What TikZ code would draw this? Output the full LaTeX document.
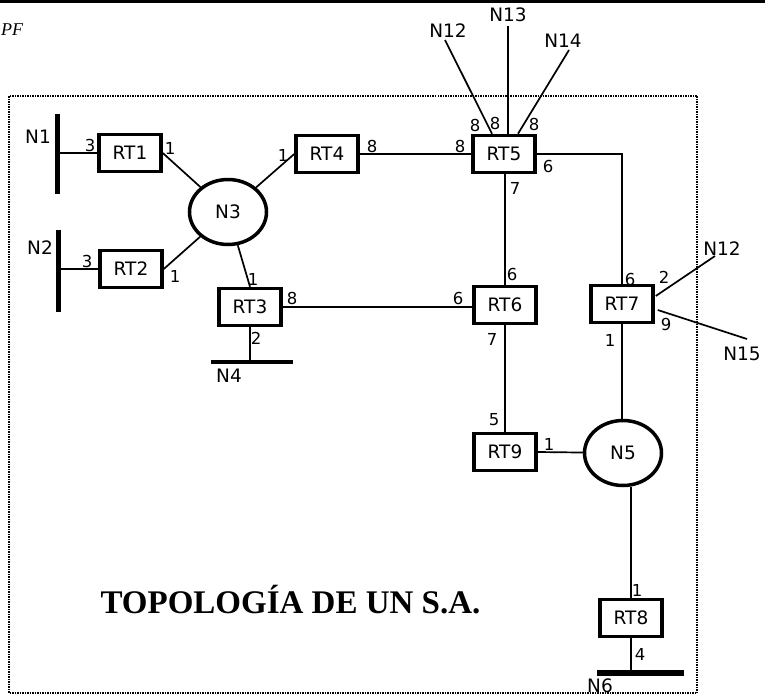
\documentclass[tikz,border=0pt]{standalone}
\usepackage{fontspec}
\setmainfont{Liberation Serif}
\newfontfamily\labfont{DejaVu Sans}
\usetikzlibrary{shapes.geometric, calc}

\tikzset{
  router/.style={draw, line width=3.5pt, minimum width=62pt, minimum height=37pt,
    inner sep=0pt, font=\labfont\fontsize{18.5}{18.5}\selectfont},
  segment/.style={draw, ellipse, line width=3.5pt, minimum width=77pt, minimum height=65pt,
    inner sep=0pt, font=\labfont\fontsize{18.5}{18.5}\selectfont},
  link/.style={line width=1.7pt},
  bus/.style={line width=5pt},
  port/.style={inner sep=0pt, font=\labfont\fontsize{16.5}{16.5}\selectfont},
  netname/.style={inner sep=0pt, font=\labfont\fontsize{18.5}{18.5}\selectfont},
  border/.style={line width=1.3pt, dash pattern=on 1.5pt off 1pt},
}

\begin{document}
\begin{tikzpicture}[x=1pt, y=-1pt]
    \useasboundingbox (0,0) rectangle (765,696);

    % Page rule, header and frame of the AS
    \draw[line width=3pt] (0,1.5) -- (765,1.5);
    \node[anchor=base west, inner sep=0pt, font=\itshape\fontsize{18}{18}\selectfont] (pf) at (1,35) {PF};
    \draw[border] (9,96) rectangle (697,693);

    % Routers
    \foreach \name/\x/\y in {RT1/130/153, RT2/131/269, RT3/250/307, RT4/327/154,
        RT5/504/154, RT6/505/305, RT7/622/304, RT8/631/618, RT9/505/452} {
        \node[router] (\name) at (\x,\y) {\name};
    }

    % Transit networks
    \node[segment] (N3) at (228,212) {N3};
    \node[segment] (N5) at (623,453) {N5};

    % Stub networks (bars)
    \coordinate (n1a) at (57,114);  \coordinate (n1b) at (57,194);
    \coordinate (n2a) at (58,230);  \coordinate (n2b) at (58,312);
    \coordinate (n4a) at (211,362); \coordinate (n4b) at (293,362);
    \coordinate (n6a) at (597,673); \coordinate (n6b) at (684,673);
    \draw[bus] (n1a) -- (n1b);
    \draw[bus] (n2a) -- (n2b);
    \draw[bus, line width=4.5pt] (n4a) -- (n4b);
    \draw[bus, line width=6pt] (n6a) -- (n6b);

    % Links
    \draw[link] (RT1.west) -- (RT1.west -| n1a);
    \draw[link] (RT2.west) -- (RT2.west -| n2a);
    \draw[link] (RT3.south) -- (RT3.south |- n4a);
    \draw[link] (RT8.south) -- (RT8.south |- n6a);
    \draw[link] (RT1.east) -- (N3);
    \draw[link] (RT2.east) -- (N3);
    \draw[link] (N3) -- (RT4.west);
    \draw[link] (N3) -- (RT3.north);
    \draw[link] (RT4.east) -- (RT5.west);
    \draw[link] (RT3.east) -- (RT3.east -| RT6.west);
    \draw[link] (RT6.north |- RT5.south) -- (RT6.north);
    \draw[link] (RT6.south) -- (RT9.north);
    \draw[link] (RT5.east) -| (RT7.north);
    \draw[link] (RT7.south) -- (RT7.south |- N5.north);
    \draw[link] (RT9.east) -- (N5);
    \draw[link] (RT8.north) -- (RT8.north |- N5.south);

    % External networks
    \coordinate (e12) at (445,40);
    \coordinate (e13) at (508,26);
    \coordinate (e14) at (569,50);
    \coordinate (f12) at (715,256);
    \coordinate (f15) at (747,339);
    \draw[link] ($(RT5.north)+(-12,0)$) -- (e12);
    \draw[link] ($(RT5.north)+(4,0)$) -- (e13);
    \draw[link] ($(RT5.north)+(14,0)$) -- (e14);
    \draw[link] ($(RT7.east)+(1,-8)$) -- (f12);
    \draw[link] ($(RT7.east)+(3,6)$) -- (f15);

    % Network names
    \foreach \name/\txt/\x/\y in {l1/N1/38/137, l2/N2/40/248, l4/N4/229/376,
        l6/N6/600/686, l12/N12/448/31, l13/N13/508/15, l14/N14/563/41,
        l12b/N12/722/249, l15/N15/742/354} {
        \node[netname] (\name) at (\x,\y) {\txt};
    }

    % Interface costs
    \foreach \v/\x/\y [count=\i] in {3/90/145, 1/170/148, 3/87/261, 1/175/276,
        1/253/279, 8/292/298, 2/256/338, 1/283/155, 8/372/146,
        8/460/146, 8/475/125, 8/495/123, 8/534/124, 6/548/166, 7/515/188,
        6/512/274, 6/458/298, 7/492/339,
        6/630/279, 2/664/277, 9/666/324, 1/610/340,
        5/494/420, 1/549/444, 1/637/590, 4/640/654} {
        \node[port] (c\i) at (\x,\y) {\v};
    }

    % Title
    \node[anchor=base west, font=\bfseries\fontsize{33}{33}\selectfont] (title)
        at (97,613) {TOPOLOGÍA DE UN S.A.};
\end{tikzpicture}
\end{document}
